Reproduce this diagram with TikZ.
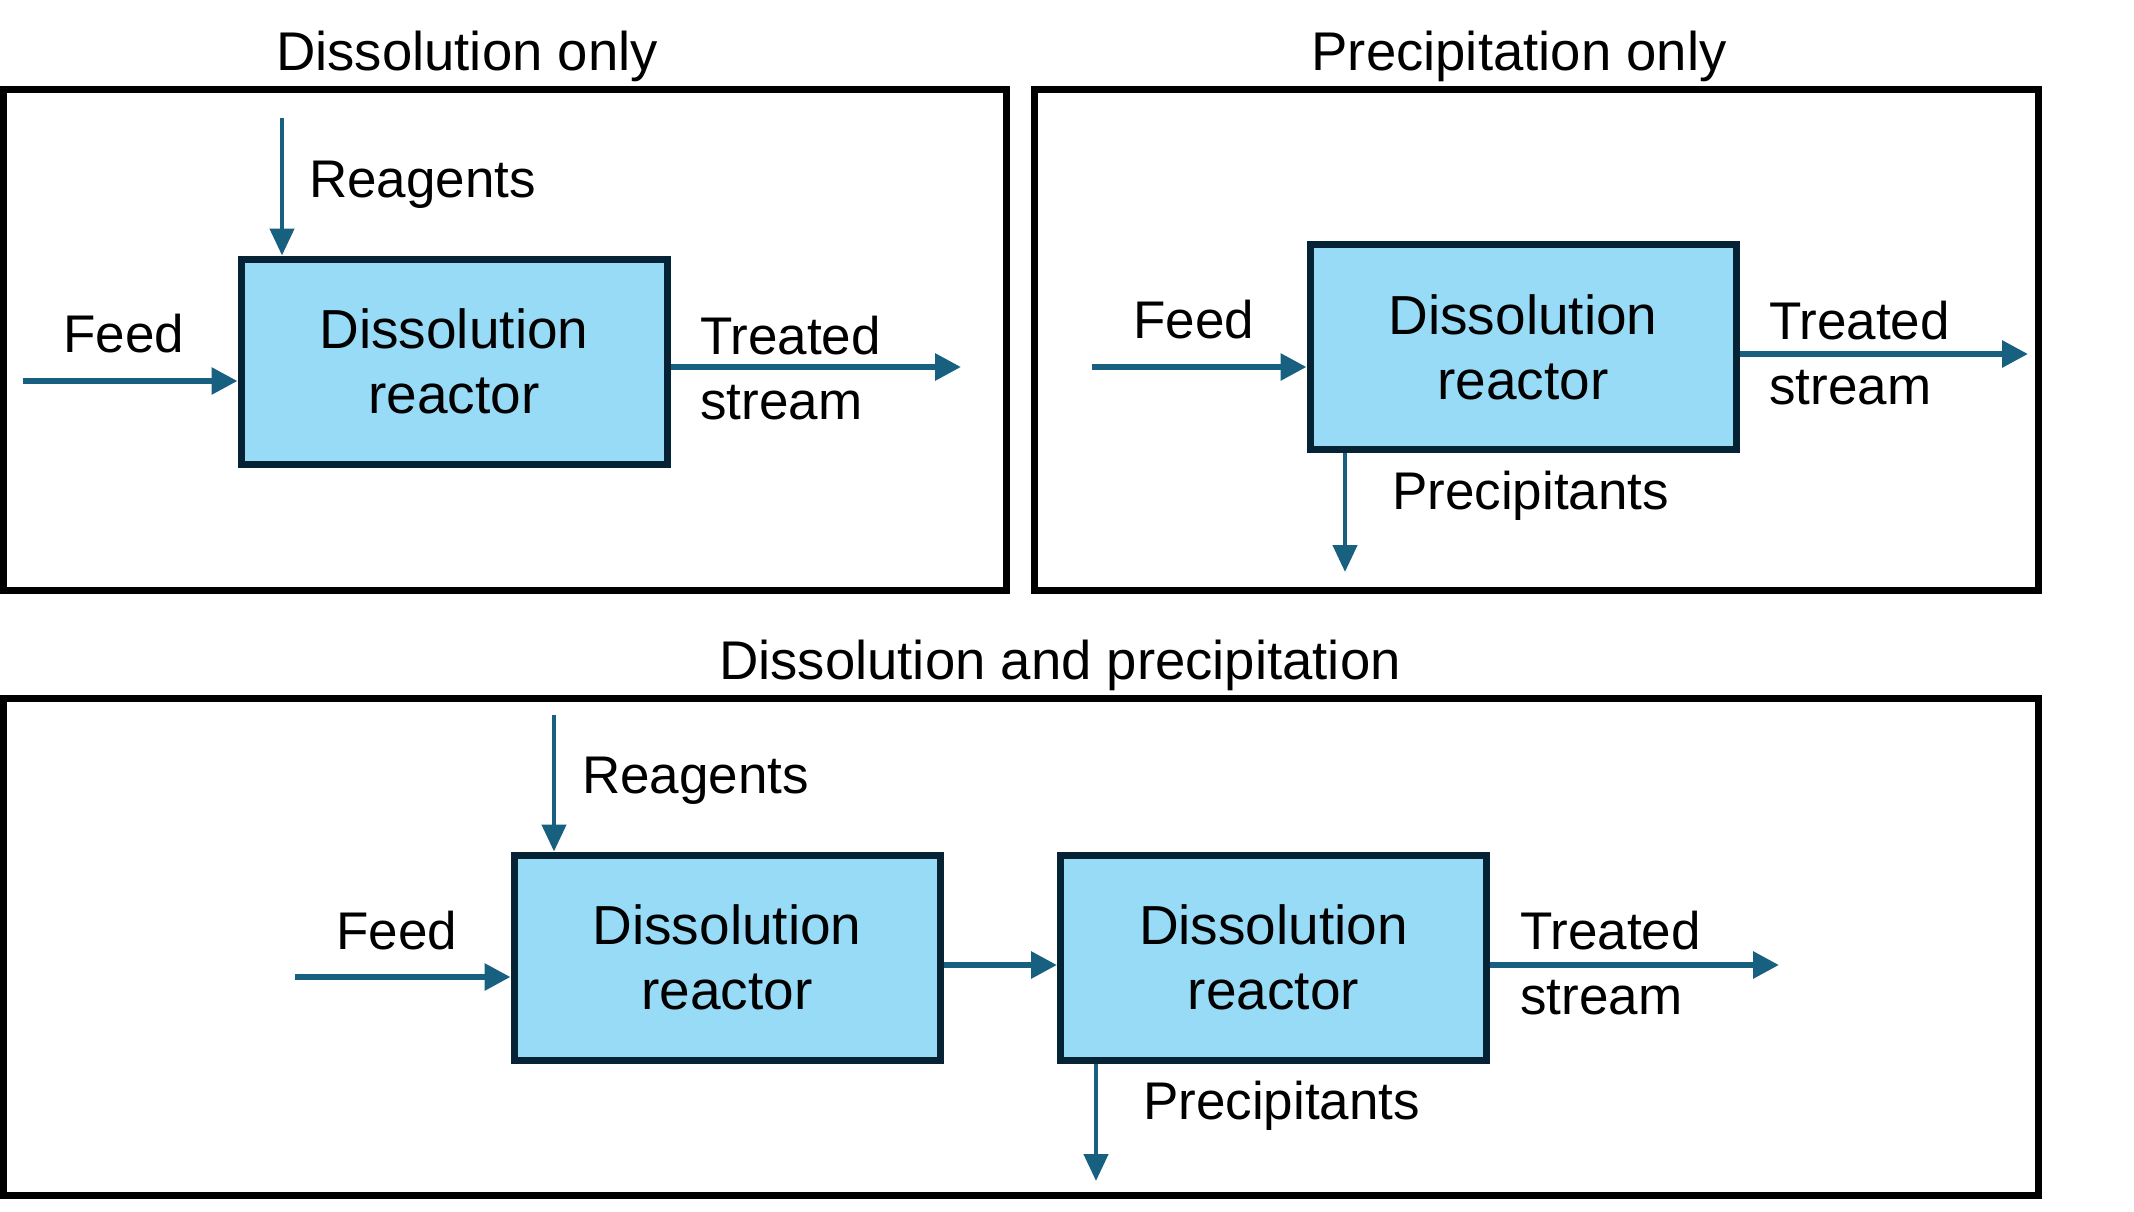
\documentclass[tikz,border=0pt]{standalone}
\usepackage{fontspec}
\setmainfont{Liberation Sans}
\usetikzlibrary{arrows.meta}
\definecolor{flow}{HTML}{17607F}
\definecolor{boxfill}{HTML}{97DBF7}
\definecolor{boxline}{HTML}{062235}
\begin{document}
\begin{tikzpicture}[x=1pt,y=-1pt,
  frame/.style={draw=black, line width=7pt, inner sep=0pt},
  reactor/.style={draw=boxline, fill=boxfill, line width=7pt, minimum width=426pt, minimum height=205pt, inner sep=0pt, align=center, font=\fontsize{55}{65}\selectfont},
  flowh/.style={draw=flow, line width=6pt, -{Triangle[length=26pt,width=26pt]}},
  flowv/.style={draw=flow, line width=4.5pt, -{Triangle[length=27pt,width=24pt]}},
  lbl/.style={inner sep=0pt, font=\fontsize{53}{65}\selectfont, align=left},
  title/.style={inner sep=0pt, font=\fontsize{54.5}{65}\selectfont}]
\useasboundingbox (0,0) rectangle (2134,1212);
% frames
\node[frame, minimum width=1003pt, minimum height=501pt] (f1) at (505,340) {};
\node[frame, minimum width=1004pt, minimum height=501pt] (f2) at (1536.5,340) {};
\node[frame, minimum width=2035pt, minimum height=497pt] (f3) at (1021,947) {};
% titles
\node[title, anchor=base] (t1) at (467,71) {Dissolution only};
\node[title, anchor=base] (t2) at (1519,71) {Precipitation only};
\node[title, anchor=base] (t3) at (1060,679) {Dissolution and precipitation};
% reactors
\node[reactor] (r1) at (454,361.5) {Dissolution\\reactor};
\node[reactor] (r2) at (1523,347) {Dissolution\\reactor};
\node[reactor] (r3) at (727,957.5) {Dissolution\\reactor};
\node[reactor] (r4) at (1273.5,957.5) {Dissolution\\reactor};
% top-left connectors
\coordinate (a1) at (23,381);
\coordinate (a2) at (282,118);
\coordinate (a3) at (961,367);
\draw[flowh] (a1) -- (a1 -| r1.west);
\draw[flowv] (a2) -- (a2 |- r1.north);
\draw[flowh] (a3 -| r1.east) -- (a3);
\node[lbl, anchor=base] (l1) at (124,352) {Feed};
\node[lbl, anchor=base west] (l2) at (309,197) {Reagents};
\node[lbl, anchor=west] (l3) at (700,368) {Treated\\stream};
% top-right connectors
\coordinate (b1) at (1092,367);
\coordinate (b2) at (2028,354);
\coordinate (b3) at (1345,572);
\draw[flowh] (b1) -- (b1 -| r2.west);
\draw[flowh] (b2 -| r2.east) -- (b2);
\draw[flowv] (b3 |- r2.south) -- (b3);
\node[lbl, anchor=base] (m1) at (1194,338) {Feed};
\node[lbl, anchor=west] (m2) at (1769,353) {Treated\\stream};
\node[lbl, anchor=base west] (m3) at (1392,509) {Precipitants};
% bottom connectors
\coordinate (c1) at (295,977);
\coordinate (c2) at (554,715);
\coordinate (c3) at (1779,965);
\coordinate (c4) at (1096,1181);
\draw[flowh] (c1) -- (c1 -| r3.west);
\draw[flowv] (c2) -- (c2 |- r3.north);
\draw[flowh] (r3.east |- c3) -- (r4.west |- c3);
\draw[flowh] (c3 -| r4.east) -- (c3);
\draw[flowv] (c4 |- r4.south) -- (c4);
\node[lbl, anchor=base] (n1) at (397,949) {Feed};
\node[lbl, anchor=base west] (n2) at (582,793) {Reagents};
\node[lbl, anchor=west] (n3) at (1520,963) {Treated\\stream};
\node[lbl, anchor=base west] (n4) at (1143,1119) {Precipitants};
\end{tikzpicture}
\end{document}
